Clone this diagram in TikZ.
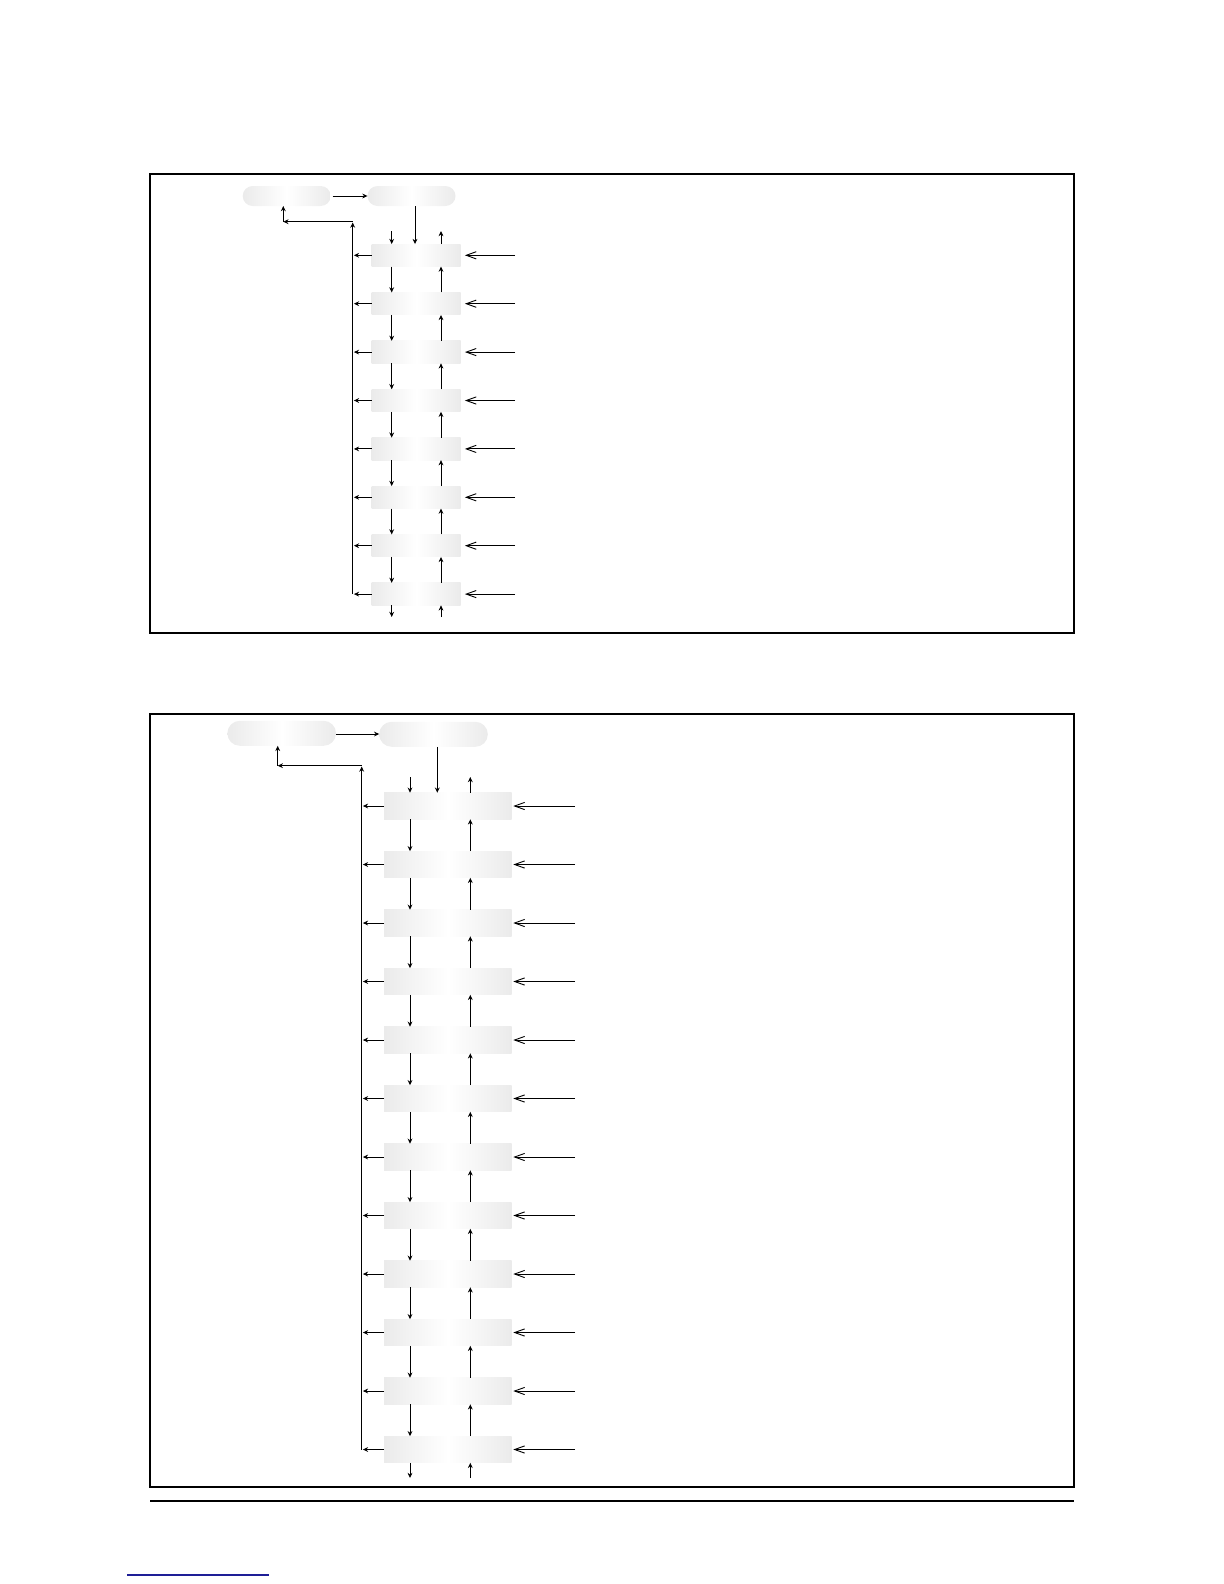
\documentclass[tikz,border=0pt]{standalone}
\usetikzlibrary{arrows.meta,calc}
\begin{document}
\begin{tikzpicture}[x=0.5bp,y=-0.5bp,
  arr/.style={line width=0.5bp,-{Stealth[length=2.6bp,width=2.4bp]}},
  inarr/.style={line width=0.5bp,-{Straight Barb[length=5bp,width=3.6bp,line width=0.45bp]}},
  frame/.style={line width=1bp,draw=black},
  shade/.style={left color=gray!16,right color=gray!16,middle color=white,draw=none,inner sep=0pt,outer sep=0pt},
  boxa/.style={shade,minimum width=44.5bp,minimum height=11.25bp},
  boxb/.style={shade,minimum width=63.85bp,minimum height=13.3bp},
  pilla/.style={shade,rounded corners=5bp,minimum width=44bp,minimum height=10bp},
  pillb/.style={shade,rounded corners=6.2bp,minimum width=54.3bp,minimum height=12.5bp}]
\useasboundingbox (0,0) rectangle (1224,1584);
% frames
\draw[frame] (150,174) rectangle (1074,633);
\draw[frame] (150,714) rectangle (1074,1487);
\draw[line width=0.8bp] (150,1501) -- (1074,1501);
\draw[line width=0.6bp,draw={rgb,255:red,30;green,30;blue,150}] (127,1575) -- (269,1575);

% ===== top diagram =====
\node[pilla] (A) at (286.7,196) {};
\node[pilla] (B) at (411.5,196) {};
\draw[arr,shorten <=1bp] (A.east) -- (B.west);
\foreach \i in {1,...,8}{
  \pgfmathsetmacro\yc{255.3+48.4*(\i-1)}
  \node[boxa] (t\i) at (416.2,\yc) {};
  \coordinate (tin\i) at (515,\yc);
}
\coordinate (tdx) at (391.7,0);
\coordinate (tux) at (441,0);
\coordinate (tvx) at (352.7,0);
\coordinate (tbx) at (415,0);
\foreach \i [evaluate=\i as \j using int(\i+1)] in {1,...,7}{
  \draw[arr] (t\i.south -| tdx) -- (t\j.north -| tdx);
  \draw[arr] (t\j.north -| tux) -- (t\i.south -| tux);
}
\foreach \i in {1,...,8}{
  \draw[inarr,shorten >=2.1bp] (tin\i) -- (t\i.east);
  \draw[arr,shorten >=0.6bp] (t\i.west) -- (t\i.west -| tvx);
}
\coordinate (tda) at (391.7,231);
\coordinate (tua) at (441,231);
\draw[arr] (tda) -- (tda |- t1.north);
\draw[arr] (tua |- t1.north) -- (tua);
\coordinate (tdb) at (391.7,617);
\coordinate (tub) at (441,617);
\draw[arr] (t8.south -| tdb) -- (tdb);
\draw[arr] (tub) -- (t8.south -| tub);
\draw[arr] (B.south -| tbx) -- (t1.north -| tbx);
\coordinate (tvtop) at (352.7,222.5);
\coordinate (tcr) at (352.7,221.7);
\coordinate (tcl) at (283.3,221.7);
\draw[arr] (t8.west -| tvx) -- (tvtop);
\draw[arr] (tcr) -- (tcl);
\draw[arr] (tcl) -- (tcl |- A.south);

% ===== bottom diagram =====
\node[pillb] (C) at (281.7,733.3) {};
\node[pillb] (D) at (433.5,734.3) {};
\draw[arr] (C.east |- 0,734) -- (D.west |- 0,734);
\foreach \i in {1,...,12}{
  \pgfmathsetmacro\yc{806+58.5*(\i-1)}
  \node[boxb] (s\i) at (447.85,\yc) {};
  \coordinate (sin\i) at (575,\yc);
}
\coordinate (sdx) at (410,0);
\coordinate (sux) at (470.3,0);
\coordinate (svx) at (361.7,0);
\coordinate (sbx) at (437.3,0);
\foreach \i [evaluate=\i as \j using int(\i+1)] in {1,...,11}{
  \draw[arr] (s\i.south -| sdx) -- (s\j.north -| sdx);
  \draw[arr] (s\j.north -| sux) -- (s\i.south -| sux);
}
\foreach \i in {1,...,12}{
  \draw[inarr,shorten >=0.8bp] (sin\i) -- (s\i.east);
  \draw[arr,shorten >=0.6bp] (s\i.west) -- (s\i.west -| svx);
}
\coordinate (sda) at (410,777);
\coordinate (sua) at (470.3,777);
\draw[arr] (sda) -- (sda |- s1.north);
\draw[arr] (sua |- s1.north) -- (sua);
\coordinate (sdb) at (410,1478);
\coordinate (sub) at (470.3,1478);
\draw[arr] (s12.south -| sdb) -- (sdb);
\draw[arr] (sub) -- (s12.south -| sub);
\draw[arr] (D.south -| sbx) -- (s1.north -| sbx);
\coordinate (svtop) at (361.7,766.5);
\coordinate (scr) at (361.7,765.7);
\coordinate (scl) at (277.7,765.7);
\draw[arr] (s12.west -| svx) -- (svtop);
\draw[arr] (scr) -- (scl);
\draw[arr] (scl) -- (scl |- C.south);
\end{tikzpicture}
\end{document}
